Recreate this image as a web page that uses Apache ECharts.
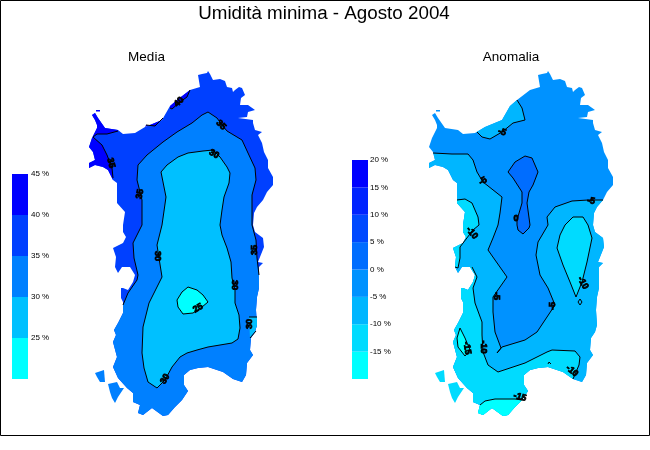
<!DOCTYPE html>
<html>
<head>
<meta charset="utf-8">
<title>Umidità minima - Agosto 2004</title>
<script src="https://cdn.jsdelivr.net/npm/echarts@6/dist/echarts.min.js"></script>
<style>
    html, body {margin: 0; padding: 0; background: #fff;}
    #main {width: 650px; height: 450px;}
</style>
</head>
<body>
<div id="main"></div>
<script>
// legend classes
var mediaLevels = [20, 25, 30, 35, 40, 45];
var mediaColors = ['#00ffff', '#00c0ff', '#0080ff', '#0040ff', '#0000ff'];
var anomaliaLevels = [-20, -15, -10, -5, 0, 5, 10, 15, 20];
var anomaliaColors = ['#00ffff', '#00dbff', '#00b6ff', '#0092ff', '#006dff', '#0049ff', '#0024ff', '#0000ff'];

// coastline, clockwise from the northern tip (map units)
var coast = [
    [208,71],[210,74],[213,80],[220,79],[225,81],[227,87],[232,88],[233,92],[235,90],[239,87],
    [242,88],[245,95],[241,98],[240,105],[248,105],[255,110],[248,112],[247,117],[238,118],[253,120],
    [253,123],[255,130],[262,132],[258,135],[262,143],[264,152],[268,160],[268,168],[273,177],[273,185],
    [267,192],[263,200],[257,207],[254,213],[253,225],[255,232],[263,238],[264,247],[258,262],[263,263],
    [259,267],[259,275],[259,288],[257,297],[256,310],[257,325],[255,332],[251,338],[250,350],[253,355],
    [247,363],[246,375],[242,382],[233,379],[223,372],[208,367],[198,368],[190,370],[184,375],[184,385],
    [188,391],[182,400],[175,407],[168,415],[163,416],[152,408],[143,415],[138,413],[140,405],[133,402],
    [133,393],[127,388],[118,378],[113,367],[117,357],[113,342],[116,335],[114,330],[118,323],[123,313],
    [123,302],[121,298],[121,288],[123,288],[128,290],[133,282],[135,275],[130,267],[122,267],[118,273],
    [115,267],[116,257],[113,248],[123,243],[126,237],[123,232],[123,225],[125,212],[117,203],[117,183],
    [113,180],[108,170],[103,167],[95,165],[89,168],[89,163],[95,160],[93,152],[89,147],[92,138],
    [97,128],[97,125],[95,120],[92,115],[95,113],[98,118],[105,128],[118,130],[123,134],[135,133],
    [140,130],[145,127],[162,120],[170,106],[177,100],[190,90],[200,87],[198,75],[202,74],[207,73]
];
var islandSanPietro = [[95,373],[104,370],[105,382],[100,382],[97,377]];
var islandSantAntioco = [[108,384],[117,382],[120,388],[124,388],[118,397],[115,403],[112,398],[110,392]];
var isletAsinara = [[96,110],[100,110],[100,111.5],[96,111.5]];

// Media contours
var media40Stintino = [[118,131],[107,134],[97,134],[93,137]];
var media40West = [[93,137],[102,145],[107,155],[112,168],[113,178]];
var media40North = [[190,90],[187,97],[180,102],[172,109],[170,108]];
var media40Small = [[163,118],[155,126],[146,125]];
var media35 = [
    [123,305],[128,293],[137,280],[138,275],[134,258],[133,243],[142,225],[142,200],[137,180],[138,165],
    [147,155],[163,142],[177,132],[192,123],[202,115],[208,112],[217,118],[222,125],[227,131],[242,140],
    [248,153],[255,168],[256,180],[252,195],[252,225],[256,240],[257,258],[259,275]
];
var media30 = [
    [213,150],[220,157],[227,167],[230,173],[229,183],[224,197],[222,210],[220,225],[222,235],[227,248],
    [231,262],[232,278],[235,290],[235,303],[239,315],[240,328],[238,339],[232,343],[208,347],[197,350],
    [187,353],[180,357],[172,367],[165,380],[157,388],[148,382],[144,368],[142,353],[143,327],[149,303],
    [162,277],[159,258],[157,245],[162,225],[166,197],[161,172],[167,165],[178,157],[188,153],[203,151],[213,150]
];
var media30East = [[249,317],[257,317],[257,325],[255,331],[250,338]];
var media25 = [
    [188,287],[197,290],[203,295],[208,302],[202,307],[193,313],[183,314],[178,307],[177,300],[182,292],[188,287]
];
var media30Bits = [[[249,317],[257,317]], [[250,338],[256,331]]];
// text, x, y, angle
var mediaLabels = [
    ['40',179,102,45],['35',221,125,-45],['30',214,154,-30],['35',111,163,-75],['35',140,194,80],
    ['30',157,256,-90],['35',255,250,90],['30',234,285,-90],['25',198,308,30],['30',250,324,90],['30',165,379,60]
];

// Anomalia contours
var anom5North = [[177,100],[182,108],[185,120],[173,123],[162,132],[150,139],[142,137],[137,132]];
var anom5Main = [
    [93,153],[112,154],[128,154],[133,160],[137,172],[143,182],[162,197],[160,213],[158,225],[153,238],
    [148,250],[155,260],[167,277],[153,297],[153,312],[155,332],[161,348],[157,353],[162,347],[185,340],
    [197,332],[215,305],[208,288],[200,275],[196,255],[198,242],[208,225],[207,217],[215,207],[232,201],
    [248,200],[263,200]
];
var anom0 = [
    [185,156],[192,158],[198,172],[193,185],[189,192],[187,203],[190,225],[189,228],[183,234],[178,230],
    [177,225],[177,220],[182,203],[182,192],[173,178],[168,172],[175,162],[185,156]
];
var anom10West = [
    [117,200],[125,199],[132,203],[138,217],[139,225],[133,230],[120,247],[120,258],[118,268],[115,267]
];
var anom10South = [
    [132,267],[137,277],[133,288],[135,303],[142,322],[142,335],[143,352],[148,365],[158,372],[185,363],
    [207,352],[212,350],[235,351],[240,357],[239,365],[233,379]
];
var anom10East = [
    [225,225],[233,217],[243,217],[248,225],[252,238],[247,262],[242,282],[236,297],[230,282],[223,265],
    [217,248],[220,235],[225,225]
];
var anom10Dot = [[240,299],[242,302],[240,305],[238,302],[240,299]];
var anom15West = [[120,328],[125,338],[130,350],[125,356],[118,347],[117,338],[120,328]];
var anom15South = [[140,405],[145,401],[155,399],[175,399],[182,400]];
var anomTick = [[208,364],[209,362],[211,364]];
var anomaliaLabels = [
    ['-5',162,132,-20],['-5',143,181,30],['-5',251,201,-10],['0',176,219,0],['-10',132,233,-50],
    ['-5',156,296,-90],['-5',213,306,90],['-10',243,283,-60],['-10',143,347,-90],['-15',127,348,-80],
    ['-10',232,371,-40],['-15',180,397,-15]
];

// walk the coast clockwise between the vertices nearest to two points
function nearestCoast(p) {
    var best = 0, bestD = Infinity;
    for (var i = 0; i < coast.length; i++) {
        var d = Math.pow(coast[i][0] - p[0], 2) + Math.pow(coast[i][1] - p[1], 2);
        if (d < bestD) { bestD = d; best = i; }
    }
    return best;
}
function closeOnCoast(line) {
    var out = line.slice();
    var i = nearestCoast(line[line.length - 1]);
    var end = nearestCoast(line[0]);
    while (i !== end) {
        out.push(coast[i]);
        i = (i + 1) % coast.length;
    }
    out.push(coast[end]);
    return out;
}

var mediaFills = [
    {pts: coast, color: mediaColors[3]},
    {pts: isletAsinara, color: mediaColors[4]},
    {pts: islandSanPietro, color: mediaColors[2]},
    {pts: islandSantAntioco, color: mediaColors[2]},
    {pts: closeOnCoast(media35), color: mediaColors[2]},
    {pts: media30, color: mediaColors[1]},
    {pts: media30East, color: mediaColors[1]},
    {pts: media25, color: mediaColors[0]},
    {pts: closeOnCoast(media40Stintino), color: mediaColors[4]},
    {pts: closeOnCoast(media40West), color: mediaColors[4]},
    {pts: closeOnCoast(media40North), color: mediaColors[4]},
    {pts: closeOnCoast(media40Small), color: mediaColors[4]}
];
var mediaLines = [media40Stintino, media40West, media40North, media40Small, media35, media30, media25].concat(media30Bits);

var anomaliaFills = [
    {pts: coast, color: anomaliaColors[3]},
    {pts: isletAsinara, color: anomaliaColors[3]},
    {pts: closeOnCoast(anom5North), color: anomaliaColors[2]},
    {pts: closeOnCoast(anom5Main), color: anomaliaColors[2]},
    {pts: anom0, color: anomaliaColors[4]},
    {pts: closeOnCoast(anom10West), color: anomaliaColors[1]},
    {pts: closeOnCoast(anom10South), color: anomaliaColors[1]},
    {pts: anom10East, color: anomaliaColors[1]},
    {pts: islandSanPietro, color: anomaliaColors[1]},
    {pts: islandSantAntioco, color: anomaliaColors[1]},
    {pts: anom15West, color: anomaliaColors[0]},
    {pts: closeOnCoast(anom15South), color: anomaliaColors[0]}
];
var anomaliaLines = [anom5North, anom5Main, anom0, anom10West, anom10South, anom10East, anom10Dot, anom15West, anom15South, anomTick];

function fillSeries(fills, gridIndex) {
    return {
        type: 'custom', xAxisIndex: gridIndex, yAxisIndex: gridIndex, silent: true, clip: false,
        data: fills.map(function (f, i) { return [i]; }),
        renderItem: function (params, api) {
            var f = fills[params.dataIndex];
            return {
                type: 'polygon',
                shape: {points: f.pts.map(function (p) { return api.coord(p); })},
                style: {fill: f.color}
            };
        }
    };
}
function lineSeries(lines, gridIndex) {
    return {
        type: 'custom', xAxisIndex: gridIndex, yAxisIndex: gridIndex, silent: true, clip: false,
        data: lines.map(function (l, i) { return [i]; }),
        renderItem: function (params, api) {
            return {
                type: 'polyline',
                shape: {points: lines[params.dataIndex].map(function (p) { return api.coord(p); })},
                style: {fill: null, stroke: '#000', lineWidth: 1}
            };
        }
    };
}
function labelSeries(labels, gridIndex) {
    return {
        type: 'custom', xAxisIndex: gridIndex, yAxisIndex: gridIndex, silent: true, clip: false,
        data: labels.map(function (l, i) { return [i]; }),
        renderItem: function (params, api) {
            var l = labels[params.dataIndex];
            var c = api.coord([l[1], l[2]]);
            return {
                type: 'text', x: c[0], y: c[1], rotation: l[3] * Math.PI / 180,
                style: {
                    text: l[0], fill: '#000', stroke: '#000', lineWidth: 0.8,
                    font: 'bold 9px "Liberation Sans"', align: 'center', verticalAlign: 'middle'
                }
            };
        }
    };
}
function legendSeries(levels, colors, gridIndex) {
    return {
        type: 'custom', xAxisIndex: gridIndex, yAxisIndex: gridIndex, silent: true,
        data: colors.map(function (c, i) { return [i]; }),
        renderItem: function (params, api) {
            var i = params.dataIndex;
            var a = api.coord([0, levels[i + 1]]);
            var b = api.coord([1, levels[i]]);
            return {
                type: 'rect',
                shape: {x: a[0], y: a[1], width: b[0] - a[0], height: b[1] - a[1]},
                style: {fill: colors[i]}
            };
        }
    };
}
function mapX(i) { return {gridIndex: i, type: 'value', min: 60, max: 300, show: false}; }
function mapY(i) { return {gridIndex: i, type: 'value', min: 60, max: 430, inverse: true, show: false}; }
function legendX(i) { return {gridIndex: i, type: 'value', min: 0, max: 1, show: false}; }
function legendY(i, levels, margin) {
    return {
        gridIndex: i, type: 'value', position: 'right',
        min: levels[0], max: levels[levels.length - 1], interval: 5,
        axisLine: {show: false}, axisTick: {show: false}, splitLine: {show: false},
        axisLabel: {
            show: true, showMinLabel: false, showMaxLabel: true, margin: margin,
            formatter: '{value} %', color: '#000', fontFamily: 'Liberation Sans', fontSize: 8
        }
    };
}

var myChart = echarts.init(document.getElementById('main'), null, {renderer: 'canvas'});
var option = {
    animation: false,
    backgroundColor: '#fff',
    title: [
        {text: 'Umidità minima - Agosto 2004', left: 319, top: -1, textAlign: 'center',
            textStyle: {fontFamily: 'Liberation Sans', fontSize: 18.8, fontWeight: 'normal', color: '#000'}},
        {text: 'Media', left: 141.5, top: 45, textAlign: 'center',
            textStyle: {fontFamily: 'Liberation Sans', fontSize: 13.5, fontWeight: 'normal', color: '#000'}},
        {text: 'Anomalia', left: 506, top: 45, textAlign: 'center',
            textStyle: {fontFamily: 'Liberation Sans', fontSize: 13.5, fontWeight: 'normal', color: '#000'}}
    ],
    grid: [
        {left: 60, top: 60, width: 240, height: 370},
        {left: 400, top: 60, width: 240, height: 370},
        {left: 12, top: 174, width: 16, height: 205},
        {left: 352, top: 160, width: 16, height: 219}
    ],
    xAxis: [mapX(0), mapX(1), legendX(2), legendX(3)],
    yAxis: [mapY(0), mapY(1), legendY(2, mediaLevels, 3), legendY(3, anomaliaLevels, 2)],
    graphic: [{
        type: 'rect', silent: true,
        shape: {x: 0.5, y: 0.5, width: 649, height: 435},
        style: {fill: null, stroke: '#000', lineWidth: 1}
    }],
    series: [
        fillSeries(mediaFills, 0), lineSeries(mediaLines, 0), labelSeries(mediaLabels, 0),
        fillSeries(anomaliaFills, 1), lineSeries(anomaliaLines, 1), labelSeries(anomaliaLabels, 1),
        legendSeries(mediaLevels, mediaColors, 2),
        legendSeries(anomaliaLevels, anomaliaColors, 3)
    ]
};
myChart.setOption(option);
</script>
</body>
</html>
